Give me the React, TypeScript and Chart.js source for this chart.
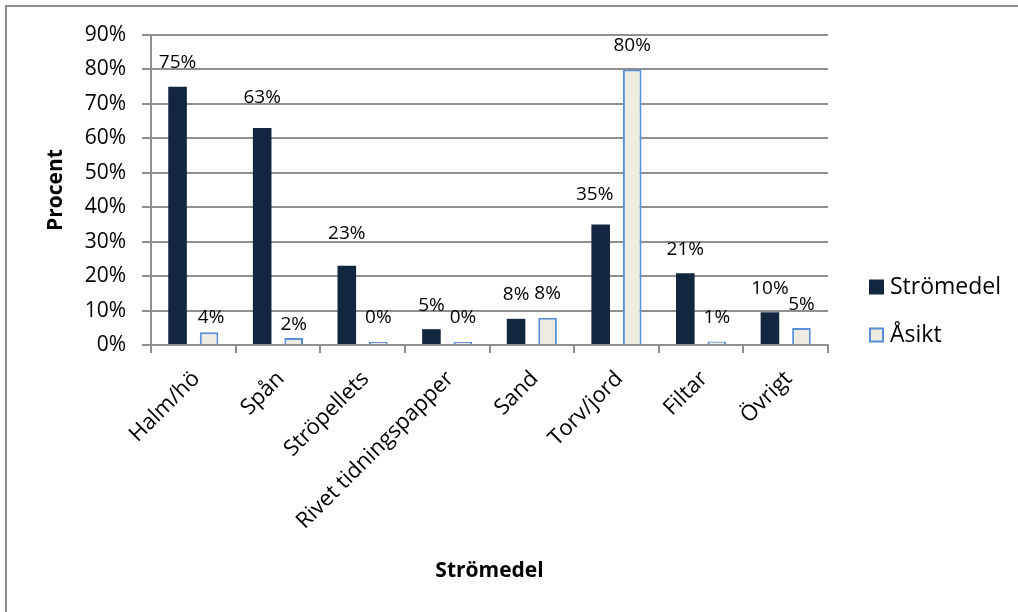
import React, { useEffect, useRef } from "react";
import { Chart, registerables } from "chart.js";

Chart.register(...registerables);

const categories = [
  "Halm/hö",
  "Spån",
  "Ströpellets",
  "Rivet tidningspapper",
  "Sand",
  "Torv/jord",
  "Filtar",
  "Övrigt",
];
const stromedelValues = [75, 63, 23, 4.6, 7.6, 35, 20.8, 9.5];
const asiktValues = [3.7, 2.0, 0.3, 0.3, 7.9, 80, 1.0, 4.9];
const seriesNames = ["Strömedel", "Åsikt"];
const yTicks = [0, 10, 20, 30, 40, 50, 60, 70, 80, 90];

const FONT = "'Open Sans', 'Noto Sans', sans-serif";
const GRID = "#8f8f8f";

// label placement nudges (px) mimicking the original's label layout
const labelNudge: Record<string, [number, number]> = {
  "0-1": [0, -6],
  "0-2": [0, -8],
  "0-5": [-6, -6],
  "1-0": [2, 9],
  "1-1": [0, 10],
};

const dataLabelPlugin = {
  id: "dataLabels",
  afterDatasetsDraw(chart: any) {
    const ctx = chart.ctx;
    ctx.save();
    ctx.font = `19px ${FONT}`;
    ctx.fillStyle = "#000";
    ctx.textAlign = "center";
    ctx.textBaseline = "middle";
    chart.data.datasets.forEach((ds: any, di: number) => {
      const meta = chart.getDatasetMeta(di);
      meta.data.forEach((bar: any, i: number) => {
        const v = ds.data[i];
        const n = labelNudge[`${di}-${i}`] || [0, 0];
        ctx.fillText(Math.round(v) + "%", bar.x + n[0], bar.y - 24 + n[1]);
      });
    });
    ctx.restore();
  },
};

const legendPlugin = {
  id: "sideLegend",
  afterDraw(chart: any) {
    const ctx = chart.ctx;
    const x = chart.chartArea.right + 41;
    const cy = chart.height / 2;
    const ys = [cy - 19, cy + 29];
    ctx.save();
    ctx.font = `23px ${FONT}`;
    ctx.textBaseline = "middle";
    ctx.textAlign = "left";
    chart.data.datasets.forEach((ds: any, i: number) => {
      const y = ys[i];
      ctx.fillStyle = ds.backgroundColor;
      ctx.fillRect(x, y - 7.5, 15, 15);
      if (ds.borderWidth) {
        ctx.strokeStyle = ds.borderColor;
        ctx.lineWidth = 2;
        ctx.strokeRect(x + 1, y - 6.5, 13, 13);
      }
      ctx.fillStyle = "#000";
      ctx.fillText(ds.label, x + 21, y);
    });
    ctx.restore();
  },
};

export default function App() {
  const canvasRef = useRef<HTMLCanvasElement | null>(null);

  useEffect(() => {
    document.body.style.margin = "0";
    document.body.style.overflow = "hidden";
    const canvas = canvasRef.current;
    if (!canvas) return;
    const chart = new Chart(canvas, {
      type: "bar",
      data: {
        labels: categories,
        datasets: [
          {
            label: seriesNames[0],
            data: stromedelValues,
            backgroundColor: "#13263f",
            borderWidth: 0,
            categoryPercentage: 0.745,
            barPercentage: 0.59,
          },
          {
            label: seriesNames[1],
            data: asiktValues,
            backgroundColor: "#eeece1",
            borderColor: "#5a8fd8",
            borderWidth: 2,
            minBarLength: 3,
            categoryPercentage: 0.745,
            barPercentage: 0.59,
          },
        ],
      },
      options: {
        responsive: false,
        animation: false,
        devicePixelRatio: 1,
        layout: { padding: { left: 0, right: 190, top: 35, bottom: 0 } },
        plugins: {
          legend: { display: false },
          tooltip: { enabled: false },
        },
        scales: {
          x: {
            afterFit: (s: any) => {
              s.height = 267;
            },
            grid: {
              display: true,
              drawOnChartArea: false,
              drawTicks: true,
              tickLength: 8,
              color: GRID,
              lineWidth: 2,
              offset: true,
            },
            border: { display: true, color: GRID, width: 2 },
            ticks: {
              autoSkip: false,
              maxRotation: 45,
              minRotation: 45,
              color: "#000",
              padding: 13,
              labelOffset: 3,
              font: { family: FONT, size: 22 },
            },
            title: {
              display: true,
              text: "Strömedel",
              color: "#000",
              font: { family: FONT, size: 21, weight: "bold" },
              padding: { top: 0, bottom: 28 },
            },
          },
          y: {
            min: 0,
            max: 90,
            afterFit: (s: any) => {
              s.width = 151;
            },
            afterBuildTicks: (s: any) => {
              s.ticks = yTicks.map((v) => ({ value: v }));
            },
            grid: {
              color: GRID,
              lineWidth: 2,
              tickLength: 9,
            },
            border: { display: true, color: GRID, width: 2 },
            ticks: {
              color: "#000",
              padding: 16,
              font: { family: FONT, size: 21 },
              callback: (v: any) => v + "%",
            },
            title: {
              display: true,
              text: "Procent",
              color: "#000",
              font: { family: FONT, size: 21, weight: "bold" },
              padding: { top: 43, bottom: 0 },
            },
          },
        },
      },
      plugins: [dataLabelPlugin, legendPlugin],
    } as any);
    return () => chart.destroy();
  }, []);

  return (
    <div style={{ position: "relative", width: 1018, height: 612, background: "#fff", overflow: "hidden" }}>
      <canvas ref={canvasRef} width={1018} height={612} style={{ display: "block" }} />
      <div
        style={{
          position: "absolute",
          left: 5,
          top: 5,
          width: 1100,
          height: 700,
          borderLeft: "2px solid #8c8c8c",
          borderTop: "2px solid #8c8c8c",
          pointerEvents: "none",
        }}
      />
    </div>
  );
}
